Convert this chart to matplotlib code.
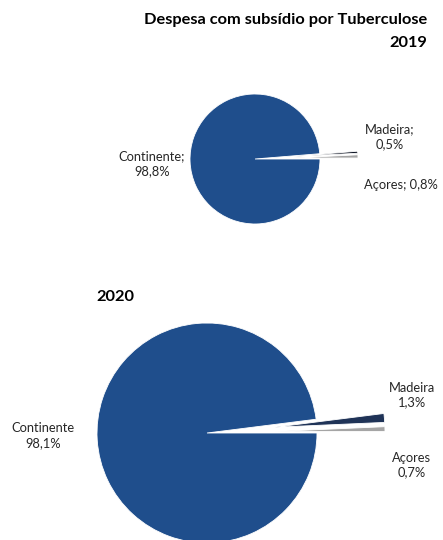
import matplotlib
matplotlib.use("Agg")
import matplotlib.pyplot as plt

# Regional shares of tuberculosis allowance spending (%)
regions = ["Açores", "Madeira", "Continente"]
values_2019 = [0.8, 0.5, 98.8]
values_2020 = [0.7, 1.3, 98.1]
colors = ["#A5A5A5", "#1F3357", "#1F4E8C"]

title_line1 = "Despesa com subsídio por Tuberculose"
title_2019 = "2019"
title_2020 = "2020"

W, H = 443, 540
plt.rcParams["font.family"] = ["Lato", "DejaVu Sans"]

fig = plt.figure(figsize=(W / 100, H / 100), dpi=100)
ax = fig.add_axes([0, 0, 1, 1])
ax.set_xlim(0, W)
ax.set_ylim(0, H)
ax.axis("off")


def fmt(v):
    return f"{v:.1f}".replace(".", ",") + "%"


def draw_pie(values, cx, cy, r, expl, cols):
    ax.pie(values, colors=cols, center=(cx, H - cy), radius=r,
           startangle=0, counterclock=True,
           explode=[expl, expl, 0],
           wedgeprops=dict(linewidth=0.6, edgecolor="white"))


label_kw = dict(ha="center", va="center", fontsize=9.3, color="#262626", linespacing=1.3)

# 2019 pie
draw_pie(values_2019, 255, 159, 65, 38, ["#A5A5A5", "#111827", "#1F4E8C"])
ax.text(152, H - 164, f"Continente;\n{fmt(values_2019[2])}", **label_kw)
ax.text(390, H - 137, f"Madeira;\n{fmt(values_2019[1])}", **label_kw)
ax.text(401, H - 185, f"Açores; {fmt(values_2019[0])}", **label_kw)

# 2020 pie
draw_pie(values_2020, 207, 433, 110, 68, colors)
ax.text(43, H - 436, f"Continente\n{fmt(values_2020[2])}", **label_kw)
ax.text(412, H - 395, f"Madeira\n{fmt(values_2020[1])}", **label_kw)
ax.text(412, H - 465, f"Açores\n{fmt(values_2020[0])}", **label_kw)

# Titles
title_kw = dict(va="center", fontsize=11.8, fontweight="bold", color="black")
ax.text(427, H - 20, title_line1, ha="right", **title_kw)
ax.text(427, H - 43, title_2019, ha="right", **title_kw)
ax.text(96, H - 297, title_2020, ha="left", **title_kw)

ax.set_xlim(0, W)
ax.set_ylim(0, H)
ax.set_aspect("auto")

fig.savefig("out.png", dpi=100, facecolor="white")
